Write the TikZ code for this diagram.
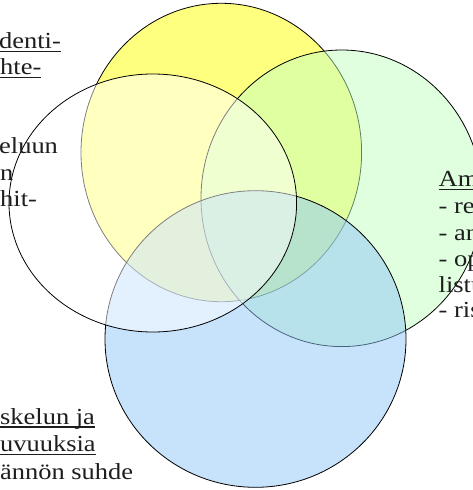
\documentclass[tikz,border=0pt]{standalone}
\usepackage{fontspec}
\setmainfont{Liberation Serif}[FakeStretch=1.15]
% underline with a fixed offset below the baseline
\newcommand{\ulword}[1]{\setbox0\hbox{#1}\rlap{\vrule width\wd0 height -2.3pt depth 3.6pt}\box0}
\definecolor{txt}{HTML}{1E1E1E}
\definecolor{setyellow}{RGB}{255,255,0}
\definecolor{setgreen}{RGB}{193,255,193}
\definecolor{setblue}{RGB}{145,199,249}
\begin{document}
\begin{tikzpicture}[x=1pt,y=-1pt,
  setfill/.style={draw=black, line width=0.8pt, fill opacity=0.5},
  lbl/.style={inner sep=0pt, anchor=base west, text=txt, font=\fontsize{23}{27}\selectfont},
]
\useasboundingbox (0,0) rectangle (473,490);
\clip (0,0) rectangle (473,490);
\fill[white] (0,0) rectangle (473,490);

% the four overlapping sets
\draw[setfill, fill=setyellow] (221.3,152.5) ellipse [x radius=140.3pt, y radius=149.2pt];
\draw[setfill, fill=setgreen]  (341.7,198.3) ellipse [x radius=140.7pt, y radius=148.3pt];
\draw[setfill, fill=setblue]   (255.5,339.0) ellipse [x radius=150.5pt, y radius=148.3pt];
\draw[setfill, fill=white]     (152.8,203.0) ellipse [x radius=143.8pt, y radius=129.0pt];

% left labels
\node[lbl] (l1) at (-1.0,48.3) {\ulword{denti-}};
\node[lbl] (l2) at (0.0,74.3) {\ulword{hte-}};
\node[lbl] (l3) at (-1.0,153.3) {eluun};
\node[lbl] (l4) at (0.0,180.0) {n};
\node[lbl] (l5) at (0.0,206.5) {hit-};

% bottom-left labels
\node[lbl] (b1) at (0.0,424.0) {\ulword{skelun ja}};
\node[lbl] (b2) at (0.0,451.5) {\ulword{uvuuksia}};
\node[lbl] (b3) at (0.0,479.0) {ännön suhde};

% right labels
\node[lbl] (r1) at (438.5,186.7) {\ulword{Am}};
\node[lbl] (r2) at (438.5,213.5) {- re};
\node[lbl] (r3) at (438.5,240.0) {- an};
\node[lbl] (r4) at (438.5,266.0) {- op};
\node[lbl] (r5) at (438.5,292.0) {listu};
\node[lbl] (r6) at (438.5,317.5) {- ris};
\end{tikzpicture}
\end{document}
